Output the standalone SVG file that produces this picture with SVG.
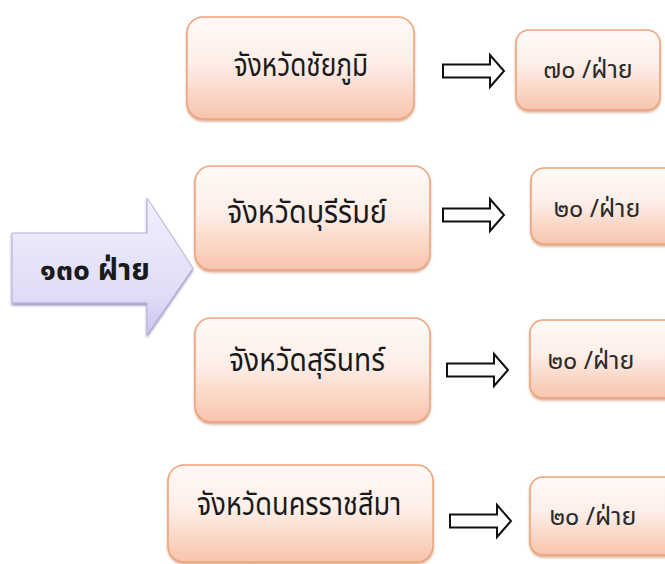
<svg xmlns="http://www.w3.org/2000/svg" width="665" height="564" viewBox="0 0 665 564">
<defs>
<linearGradient id="peach" x1="0" y1="0" x2="0" y2="1">
<stop offset="0" stop-color="#fffaf7"/>
<stop offset="0.45" stop-color="#fdeee8"/>
<stop offset="1" stop-color="#f8c4ac"/>
</linearGradient>
<linearGradient id="lav" x1="0" y1="0" x2="0" y2="1">
<stop offset="0" stop-color="#f1f0fc"/>
<stop offset="0.7" stop-color="#e0ddf6"/>
<stop offset="1" stop-color="#cbc6ee"/>
</linearGradient>
<filter id="sh" x="-10%" y="-10%" width="120%" height="130%">
<feDropShadow dx="0" dy="2" stdDeviation="1.2" flood-color="#c0703c" flood-opacity="0.55"/>
</filter>
<filter id="sh2" x="-10%" y="-10%" width="120%" height="130%">
<feDropShadow dx="0" dy="2" stdDeviation="1" flood-color="#4a4690" flood-opacity="0.6"/>
</filter>
<path id="arr" d="M0,-6.5 H47 V-16 L61,0 L47,16 V6.5 H0 Z"/>
</defs>
<style>
.box{fill:url(#peach);stroke:#eda27a;stroke-width:1.5;filter:url(#sh)}
.t{font-family:"Noto Sans Thai","Noto Sans",sans-serif;font-size:32px;fill:#1a1a1a;text-anchor:middle}
.n{font-family:"Noto Sans Thai","Noto Sans",sans-serif;font-size:25px;fill:#2a2a2a;text-anchor:middle}
.a{fill:#ffffff;stroke:#111111;stroke-width:2;stroke-linejoin:miter}
</style>
<rect width="665" height="564" fill="#ffffff"/>

<g id="total">
<path d="M12,233 H147 V198 L193,268 L147,335 V303 H12 Z" fill="url(#lav)" stroke="#b3afdc" stroke-width="1" filter="url(#sh2)"/>
<text x="95" y="280" font-family="'Noto Sans Thai','Noto Sans',sans-serif" font-size="30" font-weight="bold" fill="#1a1a1a" text-anchor="middle">๑๓๐ ฝ่าย</text>
</g>

<g id="chaiyaphum">
<rect class="box" x="187" y="17" width="227" height="102" rx="16"/>
<text class="t" transform="translate(301,76) scale(0.82,1)">จังหวัดชัยภูมิ</text>
</g>
<g id="buriram">
<rect class="box" x="195" y="166" width="235" height="104" rx="16"/>
<text class="t" transform="translate(307,223) scale(0.9,1)">จังหวัดบุรีรัมย์</text>
</g>
<g id="surin">
<rect class="box" x="195" y="318" width="235" height="104" rx="16"/>
<text class="t" transform="translate(307,371) scale(0.88,1)">จังหวัดสุรินทร์</text>
</g>
<g id="nakhon">
<rect class="box" x="168" y="465" width="265" height="97" rx="16"/>
<text class="t" transform="translate(299,515) scale(0.85,1)">จังหวัดนครราชสีมา</text>
</g>

<g id="r1">
<rect class="box" x="516" y="30" width="144" height="80" rx="13"/>
<text class="n" x="588" y="78">๗๐ /ฝ่าย</text>
</g>
<g id="r2">
<rect class="box" x="531" y="168" width="150" height="76" rx="13"/>
<text class="n" x="597" y="217">๒๐ /ฝ่าย</text>
</g>
<g id="r3">
<rect class="box" x="530" y="320" width="150" height="78" rx="13"/>
<text class="n" x="591" y="369">๒๐ /ฝ่าย</text>
</g>
<g id="r4">
<rect class="box" x="530" y="477" width="150" height="78" rx="13"/>
<text class="n" x="593" y="525">๒๐ /ฝ่าย</text>
</g>

<g id="connectors">
<use href="#arr" class="a" x="443" y="71"/>
<use href="#arr" class="a" x="443" y="215"/>
<use href="#arr" class="a" x="447" y="370"/>
<use href="#arr" class="a" x="450" y="521"/>
</g>
</svg>
